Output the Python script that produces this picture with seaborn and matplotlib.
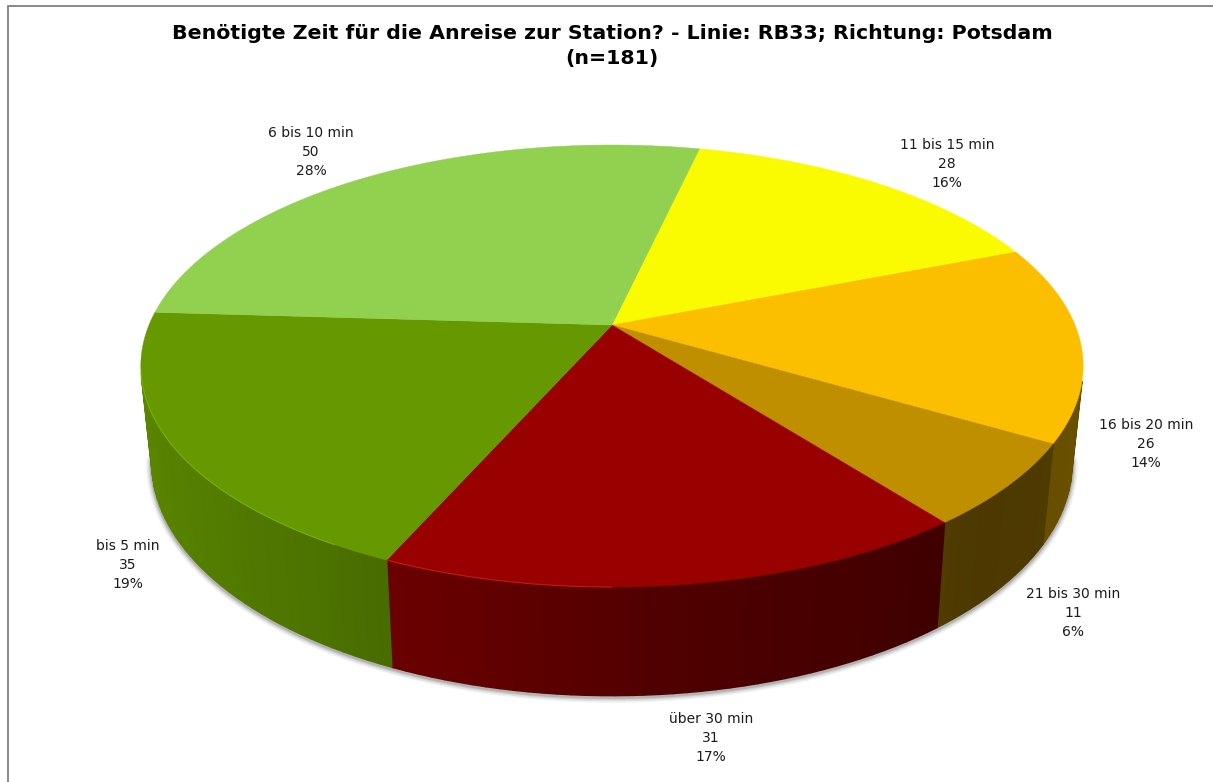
#3D pie chart: top face and rim are projected from the wedge angles
import numpy as np
import matplotlib
matplotlib.use("Agg")
import matplotlib.pyplot as plt
import seaborn as sns

#Data, clockwise from the 11 bis 15 min slice
categories = ["11 bis 15 min", "16 bis 20 min", "21 bis 30 min", "über 30 min", "bis 5 min", "6 bis 10 min"]
values = [28, 26, 11, 31, 35, 50]
percent_labels = ["16%", "14%", "6%", "17%", "19%", "28%"]
title = "Benötigte Zeit für die Anreise zur Station? - Linie: RB33; Richtung: Potsdam\n(n=181)"

palette = sns.color_palette(["#FBFB00", "#FCBF00", "#BF8F00", "#990000", "#669900", "#92D050"])
label_pos = [(947, 164), (1146, 444), (1073, 613), (711, 738), (128, 565), (311, 152)]

sns.set_theme(style="white")
plt.rcParams["font.family"] = ["DejaVu Sans"]

fig = plt.figure(figsize=(12.13, 7.82), dpi=100)
ax = fig.add_axes([0, 0, 1, 1])
ax.set_xlim(0, 1213)
ax.set_ylim(782, 0)
ax.axis("off")

#Projection of the unit circle, fitted to the picture
CX, CY, RX, RY, PERSP = 612, 325, 463, 213.4, 0.1855
START = 12.9


def top_xy(ang):
    u, v = np.sin(np.radians(ang)), np.cos(np.radians(ang))
    w = 1 + PERSP * v
    return RX * u / w, -RY * v / w


def rim_top(ang):
    x, y = top_xy(ang)
    return CX + x, CY + y


def rim_low(ang):
    x, y = top_xy(ang)
    return CX + 0.977 * x, 419 + 1.056 * y


def side_shade(ang):
    u = np.sin(np.radians(ang))
    return np.interp(u, [-1, -0.48, 0.1, 0.7, 1], [0.88, 0.73, 0.52, 0.40, 0.42])


sweeps = np.array(values) / sum(values) * 360
edges = START + np.concatenate([[0], np.cumsum(sweeps)])

#Soft shadow under the lower rim
front = np.linspace(100, 260, 200)
lx, ly = rim_low(front)
for lw, al in zip([8, 6, 4, 2.5], [0.07, 0.10, 0.14, 0.20]):
    ax.plot(lx, ly + 1.5, color="#505050", lw=lw, alpha=al, solid_capstyle="round", zorder=1)

#Side walls, in bands like the original
for i, col in enumerate(palette):
    angs = np.append(np.arange(edges[i], edges[i + 1], 1.5), edges[i + 1])
    for a0, a1 in zip(angs[:-1], angs[1:]):
        if not 104 < (a0 + a1) / 2 % 360 < 256:
            continue
        xt, yt = rim_top(np.array([a0, a1]))
        xl, yl = rim_low(np.array([a1, a0]))
        shade = tuple(c * side_shade((a0 + a1) / 2) for c in col)
        ax.fill(np.r_[xt, xl], np.r_[yt, yl], color=shade, lw=1.0, zorder=2)

#Top face
for i, col in enumerate(palette):
    arc = np.linspace(edges[i], edges[i + 1], 120)
    xs, ys = rim_top(arc)
    ax.fill(np.r_[CX, xs], np.r_[CY, ys], color=col, lw=0.3, zorder=3)

#Thin highlight along the front edge of the red and green slices
for i, light, lo, hi in [(3, "#C41A10", 180, 240), (4, "#78B000", 210, 258)]:
    arc = np.linspace(edges[i], edges[i + 1], 120)
    arc = arc[(arc % 360 > lo) & (arc % 360 < hi)]
    xs, ys = rim_top(arc)
    ax.plot(xs, ys, color=light, lw=0.8, zorder=4)

#Labels
for name, val, pct, (x, y) in zip(categories, values, percent_labels, label_pos):
    ax.text(x, y, f"{name}\n{val}\n{pct}", ha="center", va="center", fontsize=10,
            color="#1c1c1c", linespacing=1.47, zorder=5)

ax.text(612, 46, title, ha="center", va="center", fontsize=14.75, fontweight="bold",
        color="black", linespacing=1.37)

#Chart frame, only top and left are inside the crop
ax.plot([7.5, 7.5, 1213], [782, 5.5, 5.5], color="#808080", lw=1.3, solid_joinstyle="miter")

fig.savefig("out.png", dpi=100)
